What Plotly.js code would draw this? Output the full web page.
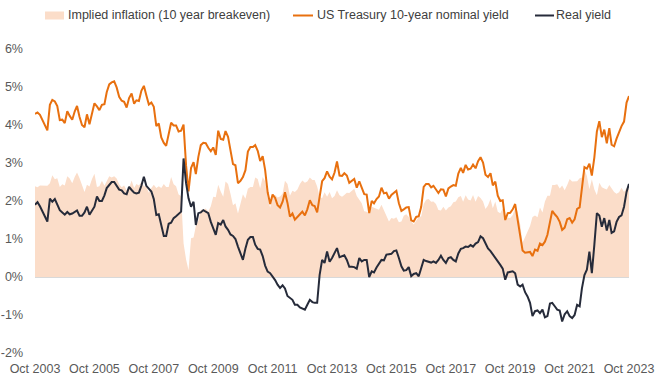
<!DOCTYPE html>
<html>
<head>
<meta charset="utf-8">
<script src="https://cdn.plot.ly/plotly-3.0.1.min.js"></script>
<style>
  html, body { margin: 0; padding: 0; background: #ffffff; }
  #chart { width: 660px; height: 379px; }
</style>
</head>
<body>
<div id="chart"></div>
<script>
// Month-end observations, Oct 2003 .. Oct 2023
const startYear = 2003;
const startMonth = 10;

// US Treasury 10-year nominal yield (%)
const nominalYield = [
  4.29, 4.33, 4.27,
  4.13, 3.99, 3.86, 4.53, 4.66, 4.62, 4.50, 4.13, 4.14, 4.05, 4.36, 4.24,
  4.14, 4.36, 4.50, 4.21, 4.00, 3.94, 4.28, 4.02, 4.34, 4.57, 4.49, 4.39,
  4.53, 4.55, 4.86, 5.07, 5.12, 5.15, 4.99, 4.74, 4.64, 4.61, 4.46, 4.71,
  4.83, 4.56, 4.65, 4.63, 4.90, 5.03, 4.78, 4.54, 4.59, 4.48, 3.97, 4.04,
  3.67, 3.53, 3.45, 3.77, 4.06, 3.99, 3.99, 3.83, 3.85, 4.01, 2.93, 2.25,
  2.87, 3.02, 2.71, 3.16, 3.47, 3.53, 3.52, 3.40, 3.31, 3.41, 3.21, 3.85,
  3.63, 3.61, 3.84, 3.69, 3.31, 2.97, 2.94, 2.47, 2.53, 2.63, 2.81, 3.30,
  3.42, 3.42, 3.47, 3.32, 3.05, 3.18, 2.82, 2.23, 1.92, 2.17, 2.08, 1.89,
  1.83, 1.98, 2.23, 1.95, 1.59, 1.67, 1.51, 1.57, 1.65, 1.72, 1.62, 1.78,
  2.02, 1.89, 1.87, 1.70, 2.16, 2.52, 2.60, 2.78, 2.64, 2.57, 2.75, 3.04,
  2.67, 2.66, 2.73, 2.67, 2.48, 2.53, 2.58, 2.35, 2.52, 2.35, 2.18, 2.17,
  1.68, 2.00, 1.94, 2.05, 2.12, 2.35, 2.20, 2.22, 2.06, 2.16, 2.21, 2.27,
  1.94, 1.74, 1.78, 1.83, 1.84, 1.49, 1.46, 1.58, 1.60, 1.84, 2.37, 2.45,
  2.45, 2.36, 2.40, 2.29, 2.21, 2.31, 2.30, 2.12, 2.33, 2.38, 2.42, 2.40,
  2.72, 2.87, 2.74, 2.95, 2.83, 2.85, 2.96, 2.86, 3.05, 3.15, 3.01, 2.69,
  2.63, 2.73, 2.41, 2.51, 2.14, 2.00, 2.02, 1.50, 1.68, 1.69, 1.78, 1.92,
  1.51, 1.13, 0.70, 0.64, 0.65, 0.66, 0.55, 0.72, 0.69, 0.88, 0.84, 0.93,
  1.11, 1.44, 1.74, 1.65, 1.58, 1.45, 1.24, 1.30, 1.52, 1.55, 1.43, 1.52,
  1.79, 1.83, 2.32, 2.89, 2.85, 2.98, 2.67, 3.15, 3.83, 4.10, 3.68, 3.88,
  3.52, 3.92, 3.48, 3.44, 3.64, 3.81, 3.97, 4.09, 4.59, 4.76
];

// Real yield (%)
const realYield = [
  1.90, 1.97, 1.86,
  1.72, 1.59, 1.46, 2.06, 1.98, 2.05, 1.90, 1.76, 1.70, 1.64, 1.71, 1.65,
  1.67, 1.72, 1.75, 1.61, 1.61, 1.70, 1.85, 1.64, 1.76, 1.85, 2.12, 2.00,
  2.00, 2.15, 2.34, 2.42, 2.50, 2.50, 2.40, 2.30, 2.28, 2.20, 2.18, 2.37,
  2.29, 2.22, 2.20, 2.22, 2.40, 2.64, 2.40, 2.32, 2.25, 2.05, 1.63, 1.65,
  1.33, 1.08, 1.08, 1.40, 1.43, 1.55, 1.60, 1.66, 1.72, 3.12, 2.47, 2.07,
  1.85, 1.98, 1.37, 1.68, 1.70, 1.76, 1.72, 1.68, 1.45, 1.30, 1.11, 1.42,
  1.38, 1.50, 1.33, 1.24, 1.12, 1.08, 1.00, 0.80, 0.60, 0.45, 0.75, 0.98,
  1.05, 1.05, 0.85, 0.74, 0.72, 0.55, 0.30, 0.14, 0.10, 0.02, -0.08, -0.20,
  -0.29, -0.22, -0.30, -0.50, -0.55, -0.60, -0.73, -0.73, -0.80, -0.82, -0.86, -0.73,
  -0.60, -0.66, -0.68, -0.68, 0.05, 0.45, 0.37, 0.67, 0.40, 0.50, 0.62, 0.76,
  0.52, 0.55, 0.57, 0.45, 0.27, 0.27, 0.26, 0.22, 0.50, 0.41, 0.45, 0.45,
  0.00, 0.15, 0.12, 0.25, 0.35, 0.45, 0.44, 0.59, 0.60, 0.61, 0.68, 0.70,
  0.50, 0.28, 0.17, 0.18, 0.26, 0.02, 0.08, 0.10, 0.02, 0.25, 0.45, 0.42,
  0.40, 0.38, 0.41, 0.37, 0.45, 0.56, 0.45, 0.37, 0.50, 0.52, 0.45, 0.41,
  0.62, 0.74, 0.76, 0.80, 0.79, 0.84, 0.80, 0.88, 0.92, 1.07, 1.02, 0.90,
  0.75, 0.68, 0.60, 0.52, 0.42, 0.32, 0.22, -0.07, 0.12, 0.14, 0.15, 0.10,
  -0.20, -0.25, -0.20, -0.40, -0.51, -0.68, -1.03, -0.90, -0.88, -0.95, -0.86, -1.06,
  -1.03, -0.70, -0.68, -0.77, -0.86, -0.88, -1.17, -0.98, -0.90, -1.03, -1.08, -1.00,
  -0.73, -0.77, -0.30, 0.05, 0.19, 0.67, 0.10, 0.85, 1.68, 1.62, 1.32, 1.55,
  1.22, 1.50, 1.16, 1.20, 1.45, 1.58, 1.62, 1.85, 2.24, 2.45
];

// Implied inflation, 10 year breakeven (%)
const breakeven = [
  2.39, 2.36, 2.41,
  2.41, 2.40, 2.40, 2.47, 2.68, 2.57, 2.60, 2.37, 2.44, 2.41, 2.65, 2.59,
  2.47, 2.64, 2.75, 2.60, 2.39, 2.24, 2.43, 2.38, 2.58, 2.72, 2.37, 2.39,
  2.53, 2.40, 2.52, 2.65, 2.62, 2.65, 2.59, 2.44, 2.36, 2.41, 2.28, 2.34,
  2.54, 2.34, 2.45, 2.41, 2.50, 2.39, 2.38, 2.22, 2.34, 2.43, 2.34, 2.39,
  2.34, 2.45, 2.37, 2.37, 2.63, 2.44, 2.39, 2.17, 2.13, 0.89, 0.46, 0.18,
  1.02, 1.04, 1.34, 1.48, 1.77, 1.77, 1.80, 1.72, 1.86, 2.11, 2.10, 2.43,
  2.25, 2.11, 2.51, 2.45, 2.19, 1.89, 1.94, 1.67, 1.93, 2.18, 2.06, 2.32,
  2.37, 2.37, 2.62, 2.58, 2.33, 2.63, 2.52, 2.09, 1.82, 2.15, 2.16, 2.09,
  2.12, 2.20, 2.53, 2.45, 2.14, 2.27, 2.24, 2.30, 2.45, 2.54, 2.48, 2.51,
  2.62, 2.55, 2.55, 2.38, 2.11, 2.07, 2.23, 2.11, 2.24, 2.07, 2.13, 2.28,
  2.15, 2.11, 2.16, 2.22, 2.21, 2.26, 2.32, 2.13, 2.02, 1.94, 1.73, 1.72,
  1.68, 1.85, 1.82, 1.80, 1.77, 1.90, 1.76, 1.63, 1.46, 1.55, 1.53, 1.57,
  1.44, 1.46, 1.61, 1.65, 1.58, 1.47, 1.38, 1.48, 1.58, 1.59, 1.92, 2.03,
  2.05, 1.98, 1.99, 1.92, 1.76, 1.75, 1.85, 1.75, 1.83, 1.86, 1.97, 1.99,
  2.10, 2.13, 1.98, 2.15, 2.04, 2.01, 2.16, 1.98, 2.13, 2.08, 1.99, 1.79,
  1.88, 2.05, 1.81, 1.99, 1.72, 1.68, 1.80, 1.57, 1.56, 1.55, 1.63, 1.82,
  1.71, 1.38, 0.90, 1.04, 1.16, 1.34, 1.58, 1.62, 1.57, 1.83, 1.70, 1.99,
  2.14, 2.14, 2.42, 2.42, 2.44, 2.33, 2.41, 2.28, 2.42, 2.58, 2.51, 2.52,
  2.52, 2.60, 2.62, 2.84, 2.66, 2.31, 2.57, 2.30, 2.15, 2.48, 2.36, 2.33,
  2.30, 2.42, 2.32, 2.24, 2.19, 2.23, 2.35, 2.24, 2.35, 2.31
];

// Axis ticks
const xTickVals = ['2003-10-01','2005-10-01','2007-10-01','2009-10-01','2011-10-01',
  '2013-10-01','2015-10-01','2017-10-01','2019-10-01','2021-10-01','2023-10-01'];
const xTickText = ['Oct 2003','Oct 2005','Oct 2007','Oct 2009','Oct 2011',
  'Oct 2013','Oct 2015','Oct 2017','Oct 2019','Oct 2021','Oct 2023'];
const yTickVals = [-2, -1, 0, 1, 2, 3, 4, 5, 6];
const yTickText = ['-2%', '-1%', '0%', '1%', '2%', '3%', '4%', '5%', '6%'];

const seriesNames = ['Implied inflation (10 year breakeven)', 'US Treasury 10-year nominal yield', 'Real yield'];
const seriesColors = ['#FBDDC9', '#E8700F', '#262B3A'];

// Month dates for the x axis
const dates = [];
for (let k = 0; k < nominalYield.length; k++) {
  const m0 = startMonth - 1 + k;
  const y = startYear + Math.floor(m0 / 12);
  const m = (m0 % 12) + 1;
  dates.push(y + '-' + String(m).padStart(2, '0') + '-01');
}

const FONT = 'Liberation Sans, Arial, sans-serif';
const W = 660, H = 379;
const M = {l: 35, r: 31, t: 49, b: 26};
const PW = W - M.l - M.r, PH = H - M.t - M.b;
// pixel -> paper helpers (for the legend placed above the plot)
const px = v => (v - M.l) / PW;
const py = v => (H - M.b - v) / PH;

const traces = [
  {
    x: dates, y: breakeven, name: seriesNames[0], type: 'scatter', mode: 'lines',
    fill: 'tozeroy', fillcolor: seriesColors[0], line: {width: 0, color: seriesColors[0]},
    showlegend: false, hoverinfo: 'skip'
  },
  {
    x: dates, y: nominalYield, name: seriesNames[1], type: 'scatter', mode: 'lines',
    line: {color: seriesColors[1], width: 2}, showlegend: false
  },
  {
    x: dates, y: realYield, name: seriesNames[2], type: 'scatter', mode: 'lines',
    line: {color: seriesColors[2], width: 2}, showlegend: false
  }
];

// Legend drawn as shapes + text above the plot area
const legendY = 15.5;
const shapes = [
  {type: 'rect', xref: 'paper', yref: 'paper', x0: px(45), x1: px(64), y0: py(19.5), y1: py(11.5),
   fillcolor: seriesColors[0], line: {width: 0}},
  {type: 'line', xref: 'paper', yref: 'paper', x0: px(293), x1: px(313), y0: py(legendY), y1: py(legendY),
   line: {color: seriesColors[1], width: 2}},
  {type: 'line', xref: 'paper', yref: 'paper', x0: px(535), x1: px(554), y0: py(legendY), y1: py(legendY),
   line: {color: seriesColors[2], width: 2}}
];
const legendTextX = [66, 314.5, 554];
const annotations = seriesNames.map((t, k) => ({
  text: t, xref: 'paper', yref: 'paper', x: px(legendTextX[k]), y: py(15),
  xanchor: 'left', yanchor: 'middle', showarrow: false,
  font: {family: FONT, size: 12.5, color: '#404040'}
}));

const layout = {
  width: W, height: H,
  margin: {l: M.l, r: M.r, t: M.t, b: M.b, pad: 0},
  paper_bgcolor: '#ffffff', plot_bgcolor: '#ffffff',
  font: {family: FONT, size: 12.5, color: '#595959'},
  showlegend: false,
  shapes: shapes,
  annotations: annotations,
  xaxis: {
    type: 'date', range: ['2003-10-01', '2023-10-01'],
    tickmode: 'array', tickvals: xTickVals, ticktext: xTickText,
    showgrid: false, zeroline: false, showline: false, ticks: '',
    ticklabelstandoff: 6, tickfont: {family: FONT, size: 12.5, color: '#595959'},
    fixedrange: true
  },
  yaxis: {
    range: [-2, 6], tickmode: 'array', tickvals: yTickVals, ticktext: yTickText,
    showgrid: false, zeroline: true, zerolinecolor: '#D9D9D9', zerolinewidth: 1,
    showline: false, ticks: '', ticklabelstandoff: 11,
    tickfont: {family: FONT, size: 12.5, color: '#595959'},
    fixedrange: true
  }
};

Plotly.newPlot('chart', traces, layout, {displayModeBar: false, staticPlot: true});
</script>
</body>
</html>
